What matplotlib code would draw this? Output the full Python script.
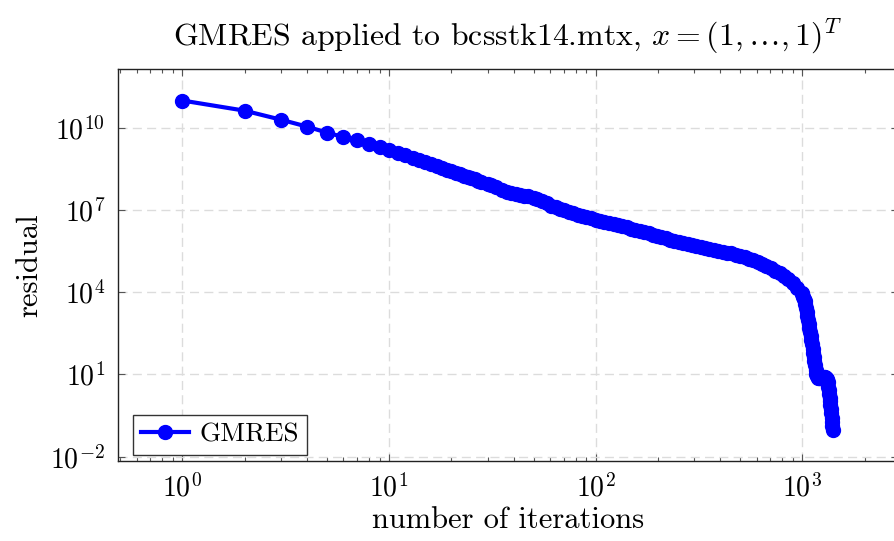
import numpy as np
import matplotlib
matplotlib.use("Agg")
import matplotlib.pyplot as plt
from matplotlib.ticker import FixedLocator, NullLocator, LogLocator

# GMRES convergence history: iteration number and log10 of the residual norm
iterations = [
    1, 2, 3, 4, 5, 6, 7, 8, 9, 10,
    11, 12, 13, 14, 15, 16, 17, 18, 19, 20,
    21, 22, 23, 24, 25, 26, 27, 28, 30, 31,
    33, 35, 37, 39, 41, 43, 45, 47, 50, 52,
    55, 58, 61, 64, 67, 70, 74, 78, 82, 86,
    90, 95, 100, 105, 110, 116, 122, 128, 134, 141,
    148, 155, 163, 171, 180, 189, 198, 208, 218, 229,
    240, 252, 265, 278, 292, 307, 322, 338, 355, 373,
    392, 411, 432, 453, 476, 500, 525, 551, 579, 608,
    638, 670, 703, 738, 775, 814, 855, 898, 943, 990,
    1000, 1008, 1016, 1024, 1032, 1040, 1048, 1056, 1064, 1072,
    1080, 1088, 1096, 1104, 1112, 1120, 1128, 1136, 1144, 1152,
    1160, 1168, 1175, 1185, 1200, 1215, 1230, 1245, 1260, 1275,
    1290, 1305, 1318, 1328, 1336, 1342, 1348, 1354, 1360, 1366,
    1372, 1378, 1384, 1390, 1396, 1402,
]
residual_log10 = [
    10.99, 10.62, 10.29, 10.04, 9.82, 9.66, 9.54, 9.42, 9.31, 9.19,
    9.09, 9.00, 8.91, 8.81, 8.74, 8.66, 8.59, 8.52, 8.46, 8.41,
    8.35, 8.30, 8.25, 8.20, 8.16, 8.11, 8.07, 8.03, 7.95, 7.91,
    7.84, 7.73, 7.67, 7.62, 7.58, 7.55, 7.52, 7.49, 7.44, 7.40,
    7.32, 7.24, 7.16, 7.10, 7.05, 7.00, 6.94, 6.88, 6.83, 6.78,
    6.74, 6.69, 6.64, 6.60, 6.56, 6.52, 6.48, 6.44, 6.40, 6.36,
    6.32, 6.28, 6.24, 6.20, 6.15, 6.10, 6.05, 6.00, 5.96, 5.92,
    5.88, 5.84, 5.80, 5.76, 5.72, 5.68, 5.64, 5.61, 5.58, 5.55,
    5.51, 5.48, 5.44, 5.41, 5.37, 5.33, 5.28, 5.22, 5.16, 5.10,
    5.03, 4.95, 4.87, 4.78, 4.69, 4.59, 4.47, 4.33, 4.16, 3.98,
    3.92, 3.82, 3.74, 3.66, 3.57, 3.42, 3.27, 3.12, 2.98, 2.84,
    2.70, 2.56, 2.40, 2.25, 2.09, 1.94, 1.79, 1.63, 1.48, 1.33,
    1.17, 1.03, 0.93, 0.87, 0.85, 0.85, 0.86, 0.87, 0.88, 0.89,
    0.89, 0.88, 0.84, 0.72, 0.55, 0.42, 0.28, 0.14, 0.02, -0.10,
    -0.26, -0.42, -0.58, -0.74, -0.89, -1.03,
]
residual = np.power(10.0, residual_log10)

y_ticks = [1e-2, 1e1, 1e4, 1e7, 1e10]

plt.rcParams.update({
    "font.family": "serif",
    "font.serif": ["cmr10"],
    "mathtext.fontset": "cm",
    "axes.formatter.use_mathtext": True,
    "axes.unicode_minus": True,
    "font.size": 20,
})

W, H = 894, 541
fig = plt.figure(figsize=(W / 100, H / 100), dpi=100)
left, right, top, bottom = 117.5, 897.7, 69.0, 461.0
ax = fig.add_axes([left / W, 1 - bottom / H, (right - left) / W, (bottom - top) / H])

ax.plot(iterations, residual, color="#0000ff", lw=3.0, marker="o",
        ms=10, mec="#0000ff", mfc="#0000ff", label="GMRES", zorder=3)

ax.set_xscale("log")
ax.set_yscale("log")
ax.set_xlim(10 ** -0.314, 10 ** 3.461)
ax.set_ylim(10 ** -2.16, 10 ** 12.14)

ax.yaxis.set_major_locator(FixedLocator(y_ticks))
ax.yaxis.set_minor_locator(NullLocator())
ax.xaxis.set_major_locator(LogLocator(base=10))
ax.xaxis.set_minor_locator(LogLocator(base=10, subs=np.arange(2, 10)))

ax.set_axisbelow(True)
ax.grid(True, which="major", color="#dcdcdc", lw=1.0, ls=(0, (6.5, 3.8)))

ax.tick_params(which="both", direction="in", top=True, right=True,
               color="#555555", width=0.8)
ax.tick_params(which="major", length=5.2, pad=9)
ax.tick_params(which="minor", length=3.2)
for s in ax.spines.values():
    s.set_color("#222222")
    s.set_linewidth(1.0)

ax.set_title(r"GMRES applied to bcsstk14.mtx, $x = (1,\ldots,1)^T$",
             fontsize=22.9, pad=17)
ax.set_xlabel("number of iterations", fontsize=22, labelpad=3)
ax.set_ylabel("residual", fontsize=22, labelpad=5)

leg = ax.legend(loc="lower left",
                bbox_to_anchor=((133 - left) / (right - left), (bottom - 455) / (bottom - top)),
                borderaxespad=0, fancybox=False, framealpha=1, edgecolor="#333333",
                handlelength=1.75, handletextpad=0.4, borderpad=0.3, fontsize=19.5)
leg.get_frame().set_linewidth(1.0)

fig.savefig("out.png", dpi=100)
